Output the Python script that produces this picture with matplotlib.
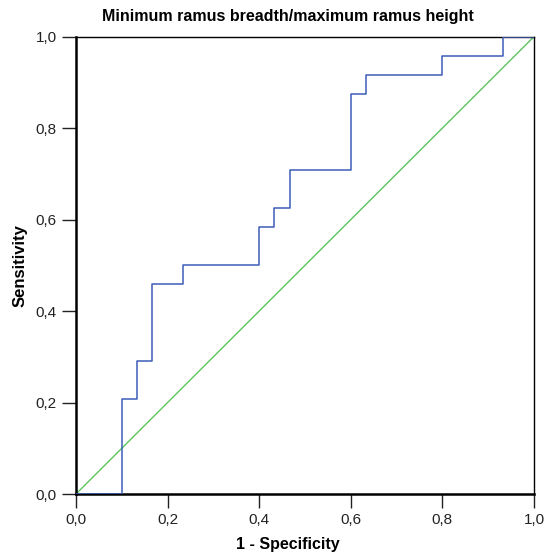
import matplotlib
matplotlib.use("Agg")
import matplotlib.pyplot as plt

# ROC curve corner points (1 - specificity, sensitivity)
fpr = [0.0, 0.1, 0.1333, 0.1667, 0.2333, 0.4, 0.4333, 0.4667, 0.6, 0.6333, 0.8, 0.9333, 1.0]
tpr = [0.0, 0.2083, 0.2917, 0.4583, 0.5, 0.5833, 0.625, 0.7083, 0.875, 0.9167, 0.9583, 1.0, 1.0]
ref_line = [0.0, 1.0]
ticks = [0.0, 0.2, 0.4, 0.6, 0.8, 1.0]
tick_labels = ["0,0", "0,2", "0,4", "0,6", "0,8", "1,0"]

plt.rcParams["font.family"] = ["Liberation Sans", "DejaVu Sans"]

fig = plt.figure(figsize=(5.53, 5.55), dpi=100)
ax = fig.add_axes([0.1374, 0.1099, 0.8282, 0.8240])

ax.step(fpr, tpr, where="post", color="#3c5cb8", lw=1.1, zorder=3)
ax.plot(ref_line, ref_line, color="#5cc65c", lw=1.0, zorder=2)

ax.set_xlim(0, 1)
ax.set_ylim(0, 1)
ax.set_xticks(ticks)
ax.set_xticklabels(tick_labels)
ax.set_yticks(ticks)
ax.set_yticklabels(tick_labels)
ax.tick_params(direction="out", length=10, width=1, labelsize=11, colors="#222222", pad=4)

for side in ["left", "bottom"]:
    ax.spines[side].set_linewidth(1.8)
for side in ["top", "right"]:
    ax.spines[side].set_linewidth(1.0)

ax.set_title("Minimum ramus breadth/maximum ramus height", fontsize=11.5, fontweight="bold",
             pad=11, x=0.463)
ax.set_xlabel("1 - Specificity", fontsize=11.5, fontweight="bold", labelpad=10)
ax.xaxis.set_label_coords(0.463, -0.095)
ax.set_ylabel("Sensitivity", fontsize=12, fontweight="bold", labelpad=6)

fig.savefig("out.png", dpi=100)
